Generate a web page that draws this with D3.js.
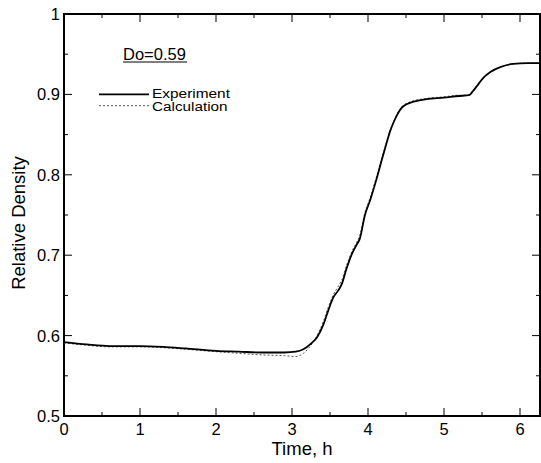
<!DOCTYPE html>
<html>
<head>
<meta charset="utf-8">
<script src="https://cdn.jsdelivr.net/npm/d3@7/dist/d3.min.js"></script>
<style>
  html, body { margin: 0; padding: 0; background: #fff; }
  svg { display: block; font-family: Arial, "Liberation Sans", sans-serif; }
</style>
</head>
<body>
<svg id="chart" width="541" height="463"></svg>
<script>
// Densification run, initial relative density Do = 0.59
const timeExp = [0, 0.3, 0.6, 1.0, 1.3, 1.6, 2.0, 2.3, 2.6, 2.9, 3.05, 3.15, 3.25, 3.33, 3.41, 3.48, 3.54, 3.6, 3.65, 3.72, 3.79, 3.85, 3.89, 3.96, 4.03, 4.11, 4.18, 4.24, 4.29, 4.34, 4.38, 4.46, 4.6, 4.77, 5.0, 5.2, 5.33, 5.38, 5.43, 5.52, 5.61, 5.74, 5.91, 6.1, 6.26];
const densityExp = [0.592, 0.589, 0.587, 0.587, 0.586, 0.584, 0.581, 0.580, 0.579, 0.579, 0.580, 0.583, 0.590, 0.598, 0.613, 0.632, 0.647, 0.655, 0.663, 0.684, 0.702, 0.713, 0.720, 0.750, 0.769, 0.794, 0.818, 0.838, 0.854, 0.866, 0.874, 0.885, 0.891, 0.894, 0.896, 0.898, 0.899, 0.904, 0.910, 0.921, 0.928, 0.934, 0.938, 0.939, 0.939];

const timeCalc = [0, 0.3, 0.6, 1.0, 1.3, 1.6, 2.0, 2.3, 2.6, 2.9, 3.05, 3.15, 3.25, 3.33, 3.41, 3.48, 3.54, 3.6, 3.65, 3.72, 3.79, 3.85, 3.89, 3.96, 4.03, 4.11, 4.18, 4.24, 4.29, 4.34, 4.38, 4.46, 4.6, 4.77, 5.0, 5.2, 5.33, 5.38, 5.43, 5.52, 5.61, 5.74, 5.91, 6.1, 6.26];
const densityCalc = [0.591, 0.588, 0.586, 0.586, 0.585, 0.583, 0.580, 0.578, 0.576, 0.575, 0.574, 0.578, 0.588, 0.600, 0.617, 0.636, 0.650, 0.660, 0.668, 0.688, 0.705, 0.716, 0.724, 0.753, 0.772, 0.797, 0.820, 0.840, 0.855, 0.867, 0.875, 0.886, 0.892, 0.895, 0.897, 0.899, 0.899, 0.904, 0.910, 0.921, 0.928, 0.934, 0.938, 0.939, 0.939];

const xMajorTicks = [0, 1, 2, 3, 4, 5, 6];
const xMinorTicks = [0.5, 1.5, 2.5, 3.5, 4.5, 5.5];
const yMajorTicks = [0.5, 0.6, 0.7, 0.8, 0.9, 1];
const yMinorTicks = [0.55, 0.65, 0.75, 0.85, 0.95];
const yTickLabels = ["0.5", "0.6", "0.7", "0.8", "0.9", "1"];

const svg = d3.select("#chart");
const plotLeft = 64, plotRight = 540, plotTop = 14, plotBottom = 416;

const x = d3.scaleLinear().domain([0, 6.263]).range([plotLeft, plotRight]);
const y = d3.scaleLinear().domain([0.5, 1]).range([plotBottom, plotTop]);

const frame = svg.append("g");

// inward ticks on all four sides
function tickSet(values, len, side) {
  values.forEach(v => {
    if (side === "bottom") frame.append("line").attr("x1", x(v)).attr("x2", x(v)).attr("y1", plotBottom).attr("y2", plotBottom - len);
    if (side === "top") frame.append("line").attr("x1", x(v)).attr("x2", x(v)).attr("y1", plotTop).attr("y2", plotTop + len);
    if (side === "left") frame.append("line").attr("x1", plotLeft).attr("x2", plotLeft + len).attr("y1", y(v)).attr("y2", y(v));
    if (side === "right") frame.append("line").attr("x1", plotRight).attr("x2", plotRight - len).attr("y1", y(v)).attr("y2", y(v));
  });
}
["bottom", "top"].forEach(s => { tickSet(xMajorTicks, 8, s); tickSet(xMinorTicks, 4, s); });
["left", "right"].forEach(s => { tickSet(yMajorTicks, 8, s); tickSet(yMinorTicks, 4, s); });
frame.selectAll("line").attr("stroke", "#000").attr("stroke-width", 1);

frame.append("rect")
  .attr("x", plotLeft).attr("y", plotTop)
  .attr("width", plotRight - plotLeft).attr("height", plotBottom - plotTop)
  .attr("fill", "none").attr("stroke", "#000").attr("stroke-width", 2);

// tick labels
svg.append("g").selectAll("text").data(xMajorTicks).join("text")
  .attr("x", d => x(d)).attr("y", plotBottom + 19)
  .attr("text-anchor", "middle").attr("font-size", 16.5)
  .text(d => d);

svg.append("g").selectAll("text").data(yMajorTicks).join("text")
  .attr("x", plotLeft - 4).attr("y", d => y(d)).attr("dy", "0.36em")
  .attr("text-anchor", "end").attr("font-size", 16.5)
  .text((d, i) => yTickLabels[i]);

// axis titles
svg.append("text")
  .attr("x", (plotLeft + plotRight) / 2).attr("y", 455)
  .attr("text-anchor", "middle").attr("font-size", 18.5)
  .text("Time, h");

svg.append("text")
  .attr("transform", "translate(24.5," + ((plotTop + plotBottom) / 2 + 8) + ") rotate(-90)")
  .attr("text-anchor", "middle").attr("font-size", 18.5)
  .text("Relative Density");

// curves
const line = d3.line().curve(d3.curveMonotoneX);

svg.append("path")
  .attr("d", line(timeCalc.map((t, i) => [x(t), y(densityCalc[i])])))
  .attr("fill", "none").attr("stroke", "#555").attr("stroke-width", 1)
  .attr("stroke-dasharray", "2,2");

svg.append("path")
  .attr("d", line(timeExp.map((t, i) => [x(t), y(densityExp[i])])))
  .attr("fill", "none").attr("stroke", "#000").attr("stroke-width", 1.8);

// legend
const lg = svg.append("g");
lg.append("text").attr("x", 123).attr("y", 59.5).attr("font-size", 16.5).text("Do=0.59");
lg.append("line").attr("x1", 123).attr("x2", 187).attr("y1", 62).attr("y2", 62)
  .attr("stroke", "#000").attr("stroke-width", 1);
lg.append("line").attr("x1", 99).attr("x2", 149).attr("y1", 94.3).attr("y2", 94.3)
  .attr("stroke", "#000").attr("stroke-width", 1.8);
lg.append("text").attr("x", 152).attr("y", 98).attr("font-size", 12.5)
  .attr("textLength", 78).attr("lengthAdjust", "spacingAndGlyphs").text("Experiment");
lg.append("line").attr("x1", 99).attr("x2", 149).attr("y1", 105.7).attr("y2", 105.7)
  .attr("stroke", "#555").attr("stroke-width", 1).attr("stroke-dasharray", "2,2");
lg.append("text").attr("x", 152).attr("y", 110.6).attr("font-size", 12.5)
  .attr("textLength", 75.5).attr("lengthAdjust", "spacingAndGlyphs").text("Calculation");
</script>
</body>
</html>
